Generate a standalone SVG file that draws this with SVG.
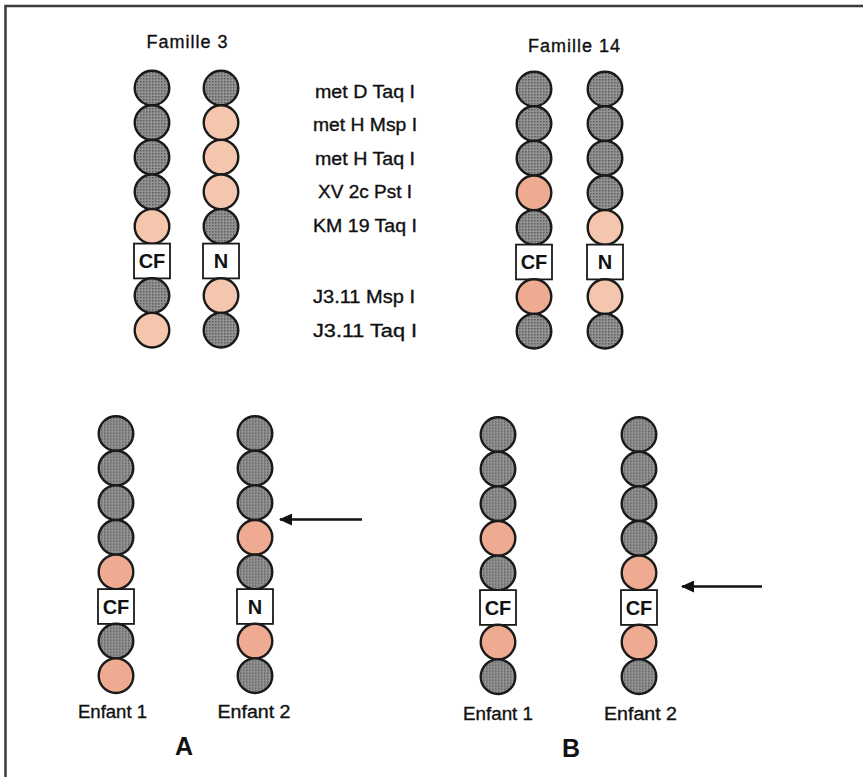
<svg xmlns="http://www.w3.org/2000/svg" width="863" height="777" viewBox="0 0 863 777">
<defs>
<pattern id="stip" width="3" height="3" patternUnits="userSpaceOnUse">
<rect width="3" height="3" fill="#939393"/>
<rect width="1.5" height="1.5" fill="#5c5c5c"/>
</pattern>
<marker id="ah" viewBox="0 0 13 12" refX="12" refY="6" markerWidth="13" markerHeight="12" markerUnits="userSpaceOnUse" orient="auto">
<path d="M0,0 L13,6 L0,12 Z" fill="#111"/>
</marker>
</defs>
<style>
.g{fill:url(#stip);stroke:#1a1a1a;stroke-width:2.4}
.p1{fill:#f3c6ad;stroke:#1a1a1a;stroke-width:2.4}
.p2{fill:#eeab92;stroke:#1a1a1a;stroke-width:2.4}
.box{fill:#fff;stroke:#1a1a1a;stroke-width:1.8}
.bt{font-family:"Liberation Sans",Arial,sans-serif;font-weight:bold;font-size:20px;text-anchor:middle;fill:#111}
.t{font-family:"Liberation Sans",Arial,sans-serif;font-size:18px;text-anchor:middle;fill:#111;stroke:#111;stroke-width:0.35}
.lab{font-family:"Liberation Sans",Arial,sans-serif;font-size:18px;text-anchor:middle;fill:#111;stroke:#111;stroke-width:0.35}
.big{font-family:"Liberation Sans",Arial,sans-serif;font-weight:bold;font-size:25px;text-anchor:middle;fill:#111}
.arr{stroke:#111;stroke-width:2.5;fill:none}
</style>
<rect width="863" height="777" fill="#fff"/>
<path d="M5.5,777 V6 H863" fill="none" stroke="#3a3a3a" stroke-width="2.5"/>

<text class="t" x="187" y="47.5" textLength="81" lengthAdjust="spacing">Famille 3</text>
<text class="t" x="574" y="51.5" textLength="92" lengthAdjust="spacing">Famille 14</text>

<g id="markers">
<text class="lab" x="365" y="98.3" textLength="100" lengthAdjust="spacingAndGlyphs">met D Taq I</text>
<text class="lab" x="365" y="130.5" textLength="104" lengthAdjust="spacingAndGlyphs">met H Msp I</text>
<text class="lab" x="365" y="164.5" textLength="100" lengthAdjust="spacingAndGlyphs">met H Taq I</text>
<text class="lab" x="365" y="198" textLength="94" lengthAdjust="spacingAndGlyphs">XV 2c Pst I</text>
<text class="lab" x="365" y="232.3" textLength="104" lengthAdjust="spacingAndGlyphs">KM 19 Taq I</text>
<text class="lab" x="364" y="303.3" textLength="102" lengthAdjust="spacingAndGlyphs">J3.11 Msp I</text>
<text class="lab" x="365" y="336.5" textLength="104" lengthAdjust="spacingAndGlyphs">J3.11 Taq I</text>
</g>

<!-- Famille 3 -->
<g id="f3-cf" transform="translate(152,0)">
<circle class="g" cx="0" cy="88" r="17.3"/><circle class="g" cx="0" cy="122.6" r="17.3"/><circle class="g" cx="0" cy="157.2" r="17.3"/><circle class="g" cx="0" cy="191.8" r="17.3"/><circle class="p1" cx="0" cy="226.4" r="17.3"/>
<rect class="box" x="-18" y="243.6" width="36" height="34.8"/><text class="bt" x="0" y="268.3">CF</text>
<circle class="g" cx="0" cy="295.6" r="17.3"/><circle class="p1" cx="0" cy="330.2" r="17.3"/>
</g>
<g id="f3-n" transform="translate(221,0)">
<circle class="g" cx="0" cy="88" r="17.3"/><circle class="p1" cx="0" cy="122.6" r="17.3"/><circle class="p1" cx="0" cy="157.2" r="17.3"/><circle class="p1" cx="0" cy="191.8" r="17.3"/><circle class="g" cx="0" cy="226.4" r="17.3"/>
<rect class="box" x="-18" y="243.6" width="36" height="34.8"/><text class="bt" x="0" y="268.3">N</text>
<circle class="p1" cx="0" cy="295.6" r="17.3"/><circle class="g" cx="0" cy="330.2" r="17.3"/>
</g>

<!-- Famille 14 -->
<g id="f14-cf" transform="translate(534,1)">
<circle class="g" cx="0" cy="88" r="17.3"/><circle class="g" cx="0" cy="122.6" r="17.3"/><circle class="g" cx="0" cy="157.2" r="17.3"/><circle class="p2" cx="0" cy="191.8" r="17.3"/><circle class="g" cx="0" cy="226.4" r="17.3"/>
<rect class="box" x="-18" y="243.6" width="36" height="34.8"/><text class="bt" x="0" y="268.3">CF</text>
<circle class="p2" cx="0" cy="295.6" r="17.3"/><circle class="g" cx="0" cy="330.2" r="17.3"/>
</g>
<g id="f14-n" transform="translate(605,1)">
<circle class="g" cx="0" cy="88" r="17.3"/><circle class="g" cx="0" cy="122.6" r="17.3"/><circle class="g" cx="0" cy="157.2" r="17.3"/><circle class="g" cx="0" cy="191.8" r="17.3"/><circle class="p1" cx="0" cy="226.4" r="17.3"/>
<rect class="box" x="-18" y="243.6" width="36" height="34.8"/><text class="bt" x="0" y="268.3">N</text>
<circle class="p1" cx="0" cy="295.6" r="17.3"/><circle class="g" cx="0" cy="330.2" r="17.3"/>
</g>

<!-- A -->
<g id="a-enfant1" transform="translate(116,345.5)">
<circle class="g" cx="0" cy="88" r="17.3"/><circle class="g" cx="0" cy="122.6" r="17.3"/><circle class="g" cx="0" cy="157.2" r="17.3"/><circle class="g" cx="0" cy="191.8" r="17.3"/><circle class="p2" cx="0" cy="226.4" r="17.3"/>
<rect class="box" x="-18" y="243.6" width="36" height="34.8"/><text class="bt" x="0" y="268.3">CF</text>
<circle class="g" cx="0" cy="295.6" r="17.3"/><circle class="p2" cx="0" cy="330.2" r="17.3"/>
<text class="t" x="-3.5" y="372.8" textLength="69" lengthAdjust="spacingAndGlyphs">Enfant 1</text>
</g>
<g id="a-enfant2" transform="translate(255,345.5)">
<circle class="g" cx="0" cy="88" r="17.3"/><circle class="g" cx="0" cy="122.6" r="17.3"/><circle class="g" cx="0" cy="157.2" r="17.3"/><circle class="p2" cx="0" cy="191.8" r="17.3"/><circle class="g" cx="0" cy="226.4" r="17.3"/>
<rect class="box" x="-18" y="243.6" width="36" height="34.8"/><text class="bt" x="0" y="268.3">N</text>
<circle class="p2" cx="0" cy="295.6" r="17.3"/><circle class="g" cx="0" cy="330.2" r="17.3"/>
<text class="t" x="-1" y="372.8" textLength="73" lengthAdjust="spacingAndGlyphs">Enfant 2</text>
</g>
<text class="big" x="184" y="755">A</text>

<!-- B -->
<g id="b-enfant1" transform="translate(498,346.5)">
<circle class="g" cx="0" cy="88" r="17.3"/><circle class="g" cx="0" cy="122.6" r="17.3"/><circle class="g" cx="0" cy="157.2" r="17.3"/><circle class="p2" cx="0" cy="191.8" r="17.3"/><circle class="g" cx="0" cy="226.4" r="17.3"/>
<rect class="box" x="-18" y="243.6" width="36" height="34.8"/><text class="bt" x="0" y="268.3">CF</text>
<circle class="p2" cx="0" cy="295.6" r="17.3"/><circle class="g" cx="0" cy="330.2" r="17.3"/>
<text class="t" x="0" y="373.5" textLength="70" lengthAdjust="spacingAndGlyphs">Enfant 1</text>
</g>
<g id="b-enfant2" transform="translate(639,346.5)">
<circle class="g" cx="0" cy="88" r="17.3"/><circle class="g" cx="0" cy="122.6" r="17.3"/><circle class="g" cx="0" cy="157.2" r="17.3"/><circle class="g" cx="0" cy="191.8" r="17.3"/><circle class="p2" cx="0" cy="226.4" r="17.3"/>
<rect class="box" x="-18" y="243.6" width="36" height="34.8"/><text class="bt" x="0" y="268.3">CF</text>
<circle class="p2" cx="0" cy="295.6" r="17.3"/><circle class="g" cx="0" cy="330.2" r="17.3"/>
<text class="t" x="1.5" y="373.5" textLength="73" lengthAdjust="spacingAndGlyphs">Enfant 2</text>
</g>
<text class="big" x="571" y="756.5">B</text>

<g id="connectors">
<line class="arr" x1="362" y1="519.5" x2="280" y2="519.5" marker-end="url(#ah)"/>
<line class="arr" x1="762" y1="586.5" x2="682" y2="586.5" marker-end="url(#ah)"/>
</g>
</svg>
